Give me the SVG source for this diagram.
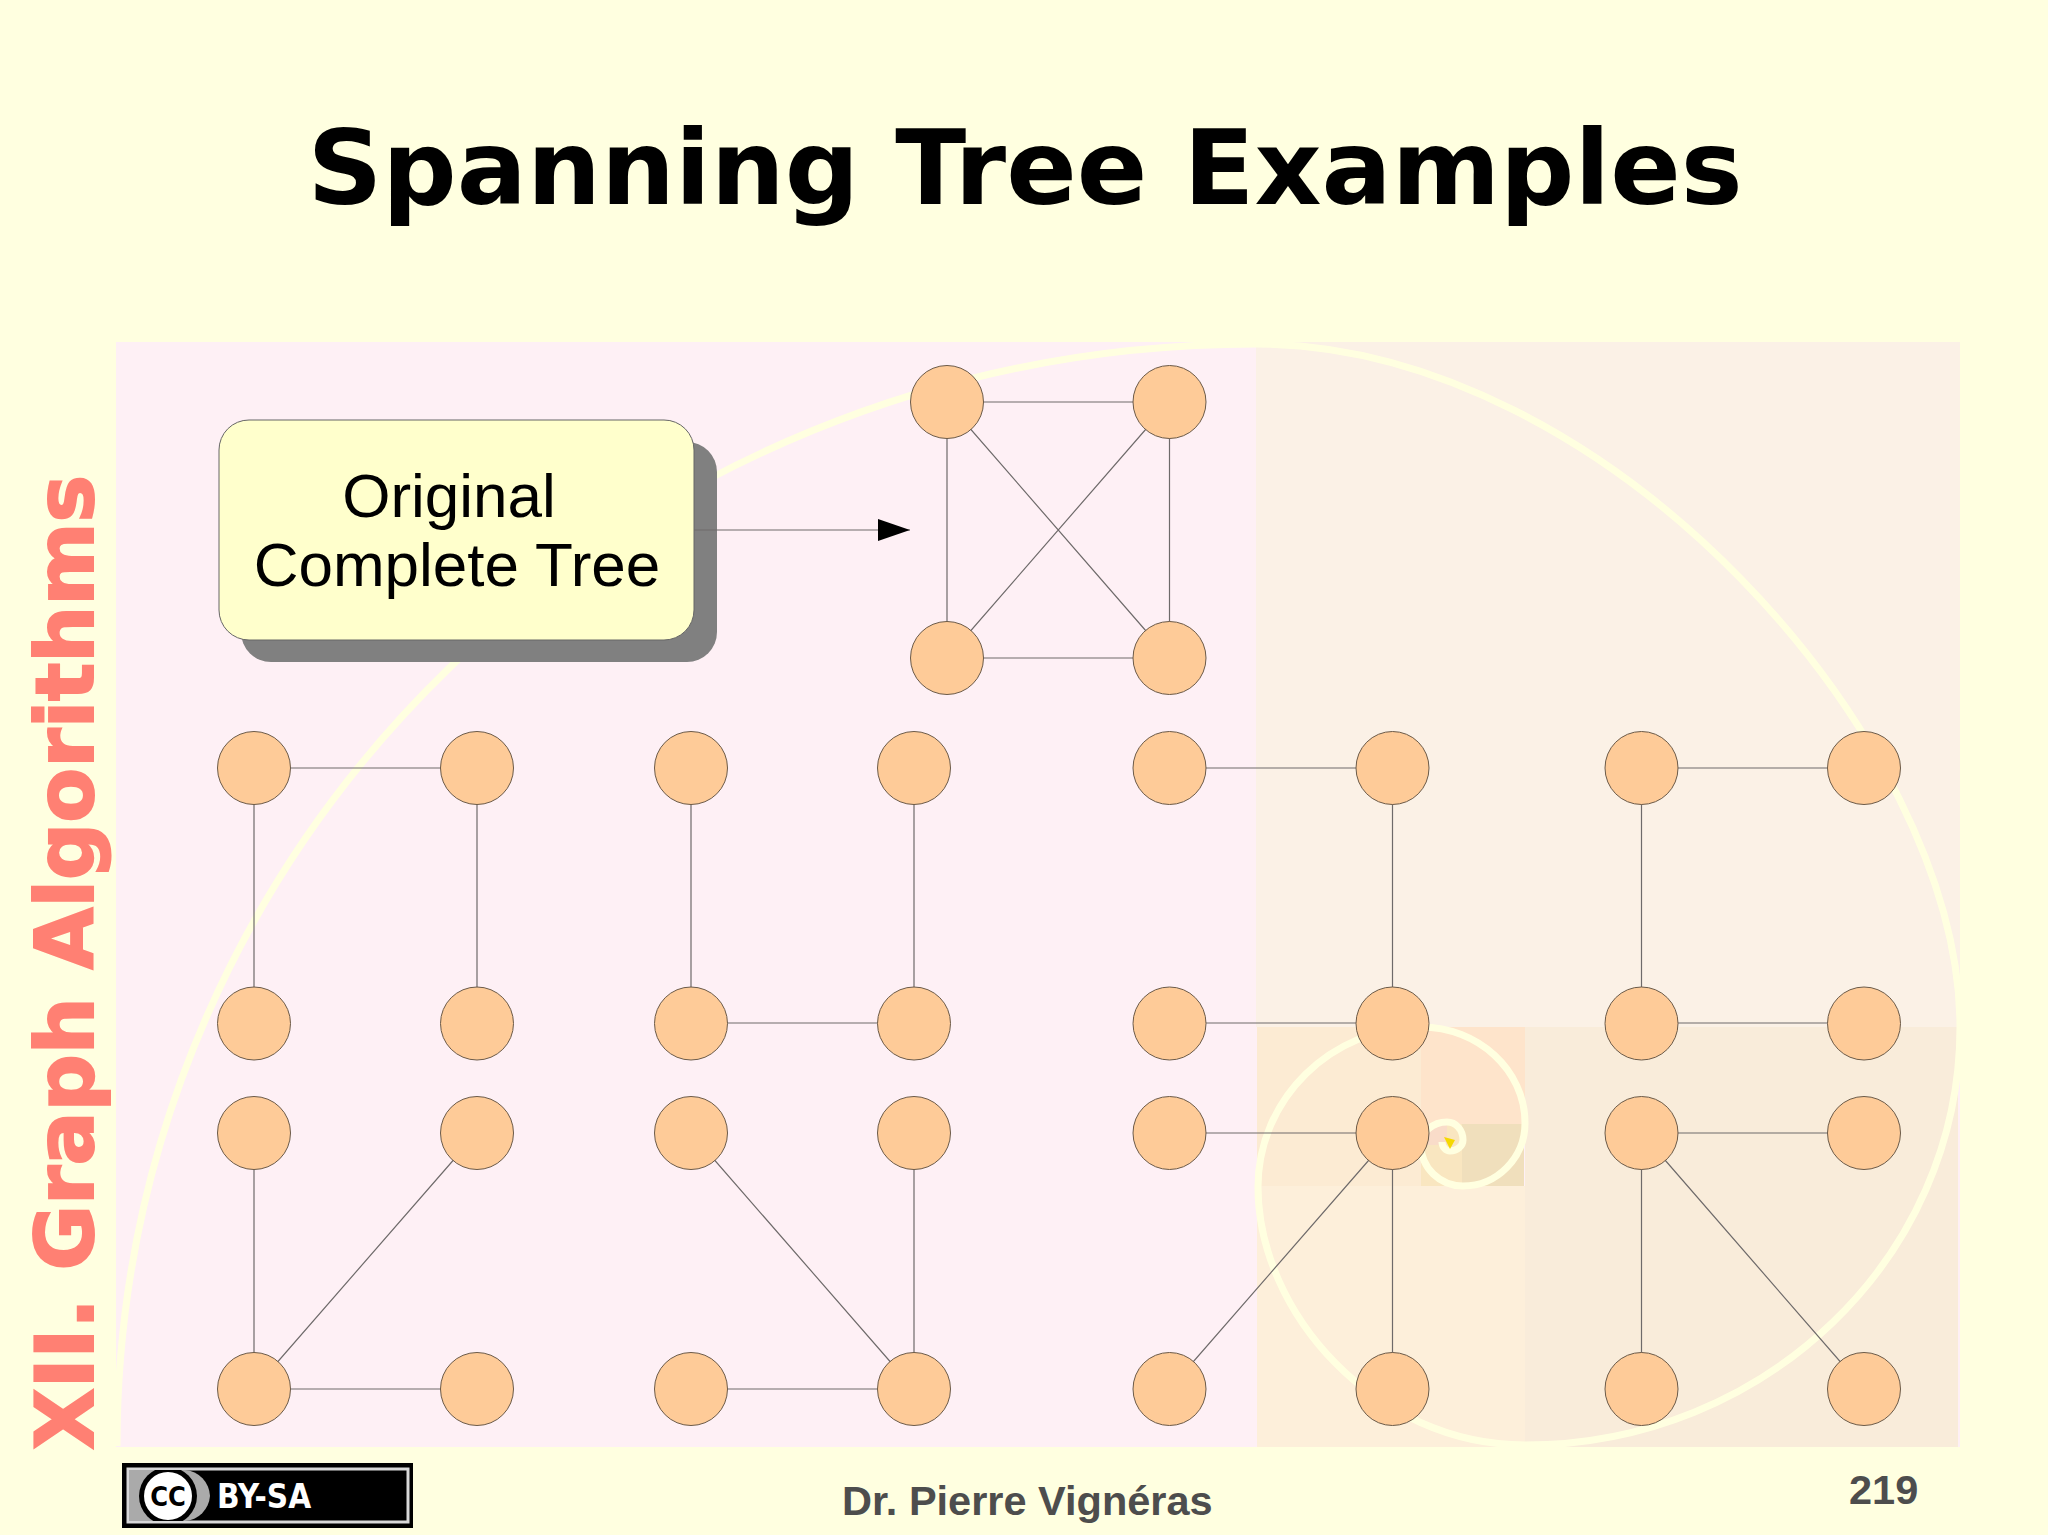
<svg xmlns="http://www.w3.org/2000/svg" width="2048" height="1535" viewBox="0 0 2048 1535">
<style>
.n{fill:#fecb98;stroke:#6b5a48;stroke-width:1}
.e{stroke:#6e6a6a;stroke-width:1.2;fill:none}
.t{font-family:"DejaVu Sans",sans-serif;font-weight:bold}
.l{font-family:"Liberation Sans",Arial,sans-serif}
.f{font-family:"Liberation Sans",Arial,sans-serif;font-weight:bold;font-size:41.500px;fill:#4d4d4d}
</style>
<defs>
<marker id="arrow" markerUnits="userSpaceOnUse" markerWidth="33" markerHeight="24" refX="32" refY="11.5" orient="auto"><path d="M0,0.500L32,11.500L0,22.500Z" fill="#000"/></marker>
<clipPath id="badge"><rect x="129" y="1470" width="278" height="51"/></clipPath>
</defs>
<rect width="2048" height="1535" fill="#ffffe0"/>
<g id="background">
<rect x="116" y="342" width="1844" height="1105" fill="#fef0f5"/>
<rect x="1256" y="342" width="704" height="685" fill="#fbf1e6"/>
<rect x="1525" y="1027" width="433" height="420" fill="#f9ecda"/>
<rect x="1257" y="1186" width="268" height="261" fill="#fdefda"/>
<rect x="1257" y="1027" width="164" height="159" fill="#fcebd3"/>
<rect x="1421" y="1027" width="104" height="97" fill="#fee4cb"/>
<rect x="1462" y="1124" width="62" height="62" fill="#f0dfbc"/>
<rect x="1421" y="1124" width="41" height="62" fill="#f9e6c0"/>
<rect x="1421" y="1124" width="26" height="21" fill="#f9dcc9"/>
<path d="M117,1446C117,837 627,344 1256,344C1608,344 1960,740 1960,1027C1960,1258 1765,1445 1525,1445C1375,1445 1258,1312 1258,1187C1258,1099 1331,1027 1421,1027C1478,1027 1525,1070 1525,1123C1525,1158 1497,1186 1463,1186C1440,1186 1421,1168 1421,1145C1421,1132 1433,1122 1447,1122C1456,1122 1463,1130 1463,1140C1463,1146 1457,1151 1450,1151C1446,1151 1442,1147 1442,1142" fill="none" stroke="#ffffe0" stroke-width="7"/>
<path d="M1444,1137L1455,1140L1450,1149Z" fill="#f5d800"/>
</g>
<g id="box-original">
<rect x="241" y="442" width="476" height="220" rx="30" ry="30" fill="#808080"/>
<rect x="219" y="420" width="475" height="220" rx="30" ry="30" fill="#ffffcc" stroke="#666" stroke-width="1"/>
<text class="l" font-size="62" text-anchor="middle" fill="#000" x="449" y="517">Original</text>
<text class="l" font-size="62" text-anchor="middle" fill="#000" x="457" y="586">Complete Tree</text>
</g>
<g id="connectors">
<line class="e" x1="694" y1="530" x2="910" y2="530" marker-end="url(#arrow)"/>
<path class="e" d="M947,402H1169.500M947,402V658M1169.500,402V658M947,658H1169.500M947,402L1169.500,658M1169.500,402L947,658"/>
<path class="e" d="M254,768H477M254,768V1023M477,768V1023"/>
<path class="e" d="M691,768V1023M914,768V1023M691,1023H914"/>
<path class="e" d="M1169.500,768H1392.500M1392.500,768V1023M1169.500,1023H1392.500"/>
<path class="e" d="M1641.500,768H1864M1641.500,768V1023M1641.500,1023H1864"/>
<path class="e" d="M254,1133V1389M477,1133L254,1389M254,1389H477"/>
<path class="e" d="M691,1133L914,1389M914,1133V1389M691,1389H914"/>
<path class="e" d="M1169.500,1133H1392.500M1392.500,1133L1169.500,1389M1392.500,1133V1389"/>
<path class="e" d="M1641.500,1133H1864M1641.500,1133V1389M1641.500,1133L1864,1389"/>
</g>
<g id="n1"><circle class="n" cx="947" cy="402" r="36.500"/></g>
<g id="n2"><circle class="n" cx="1169.500" cy="402" r="36.500"/></g>
<g id="n3"><circle class="n" cx="947" cy="658" r="36.500"/></g>
<g id="n4"><circle class="n" cx="1169.500" cy="658" r="36.500"/></g>
<g id="n5"><circle class="n" cx="254" cy="768" r="36.500"/></g>
<g id="n6"><circle class="n" cx="477" cy="768" r="36.500"/></g>
<g id="n7"><circle class="n" cx="254" cy="1023.500" r="36.500"/></g>
<g id="n8"><circle class="n" cx="477" cy="1023.500" r="36.500"/></g>
<g id="n9"><circle class="n" cx="691" cy="768" r="36.500"/></g>
<g id="n10"><circle class="n" cx="914" cy="768" r="36.500"/></g>
<g id="n11"><circle class="n" cx="691" cy="1023.500" r="36.500"/></g>
<g id="n12"><circle class="n" cx="914" cy="1023.500" r="36.500"/></g>
<g id="n13"><circle class="n" cx="1169.500" cy="768" r="36.500"/></g>
<g id="n14"><circle class="n" cx="1392.500" cy="768" r="36.500"/></g>
<g id="n15"><circle class="n" cx="1169.500" cy="1023.500" r="36.500"/></g>
<g id="n16"><circle class="n" cx="1392.500" cy="1023.500" r="36.500"/></g>
<g id="n17"><circle class="n" cx="1641.500" cy="768" r="36.500"/></g>
<g id="n18"><circle class="n" cx="1864" cy="768" r="36.500"/></g>
<g id="n19"><circle class="n" cx="1641.500" cy="1023.500" r="36.500"/></g>
<g id="n20"><circle class="n" cx="1864" cy="1023.500" r="36.500"/></g>
<g id="n21"><circle class="n" cx="254" cy="1133" r="36.500"/></g>
<g id="n22"><circle class="n" cx="477" cy="1133" r="36.500"/></g>
<g id="n23"><circle class="n" cx="254" cy="1389" r="36.500"/></g>
<g id="n24"><circle class="n" cx="477" cy="1389" r="36.500"/></g>
<g id="n25"><circle class="n" cx="691" cy="1133" r="36.500"/></g>
<g id="n26"><circle class="n" cx="914" cy="1133" r="36.500"/></g>
<g id="n27"><circle class="n" cx="691" cy="1389" r="36.500"/></g>
<g id="n28"><circle class="n" cx="914" cy="1389" r="36.500"/></g>
<g id="n29"><circle class="n" cx="1169.500" cy="1133" r="36.500"/></g>
<g id="n30"><circle class="n" cx="1392.500" cy="1133" r="36.500"/></g>
<g id="n31"><circle class="n" cx="1169.500" cy="1389" r="36.500"/></g>
<g id="n32"><circle class="n" cx="1392.500" cy="1389" r="36.500"/></g>
<g id="n33"><circle class="n" cx="1641.500" cy="1133" r="36.500"/></g>
<g id="n34"><circle class="n" cx="1864" cy="1133" r="36.500"/></g>
<g id="n35"><circle class="n" cx="1641.500" cy="1389" r="36.500"/></g>
<g id="n36"><circle class="n" cx="1864" cy="1389" r="36.500"/></g>
<text class="t" font-size="104" text-anchor="middle" x="1025" y="204" fill="#000">Spanning Tree Examples</text>
<text class="t" font-size="80" transform="translate(93 1450) rotate(-90)" fill="#ff8073" stroke="#ff8073" stroke-width="2">XII. Graph Algorithms</text>
<g id="badge-cc">
<rect x="122" y="1463" width="291" height="65" fill="#000"/>
<rect x="128" y="1469" width="280" height="53" fill="#000" stroke="#d8d8d8" stroke-width="3"/>
<g clip-path="url(#badge)">
<path d="M129,1470H185A27,27 0 0 1 210,1496A27,27 0 0 1 185,1521H129Z" fill="#aaa"/>
<circle cx="168" cy="1496" r="29" fill="#000"/>
<circle cx="168" cy="1496" r="24" fill="#fff"/>
</g>
<text class="t" font-size="27" text-anchor="middle" x="168" y="1506" fill="#000" style="font-stretch:condensed">CC</text>
<text class="t" font-size="33" x="217" y="1508" fill="#fff" style="font-stretch:condensed">BY-SA</text>
</g>
<text class="f" x="842" y="1515">Dr. Pierre Vignéras</text>
<text class="f" x="1849" y="1504">219</text>
</svg>
